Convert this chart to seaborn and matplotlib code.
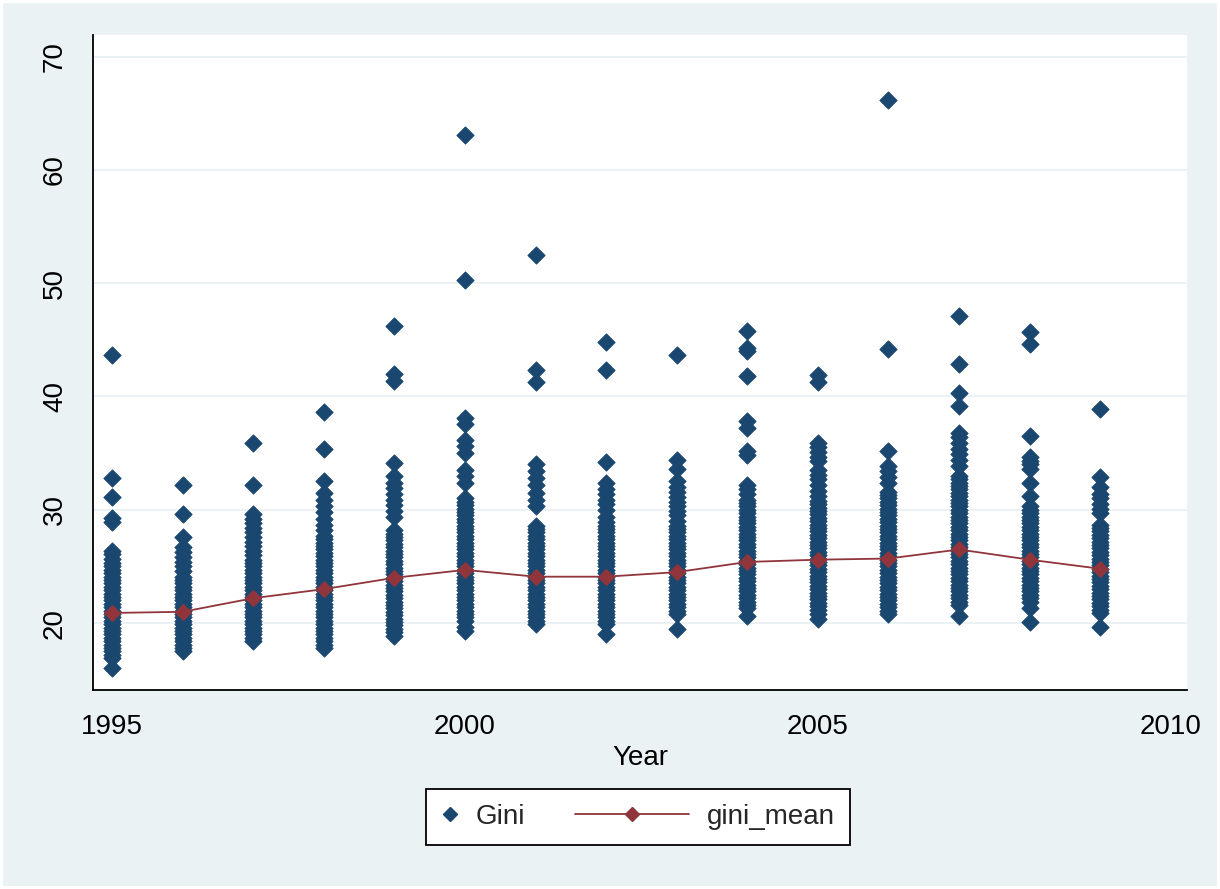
import matplotlib
matplotlib.use("Agg")
import matplotlib.pyplot as plt
import seaborn as sns
import pandas as pd
from matplotlib.lines import Line2D
from matplotlib.patches import Rectangle
from matplotlib.legend_handler import HandlerLine2D

# ---- data -----------------------------------------------------------------
years = [1995, 1996, 1997, 1998, 1999, 2000, 2001, 2002, 2003, 2004,
         2005, 2006, 2007, 2008, 2009]

gini_mean = [20.9, 21.0, 22.2, 23.0, 24.0, 24.7, 24.1, 24.1, 24.5, 25.4,
             25.6, 25.7, 26.5, 25.6, 24.8]

gini_1995 = [16.0, 16.9, 17.2, 17.5, 17.8, 18.1, 18.4, 18.7, 19.0, 19.3, 19.6,
             19.9, 20.2, 20.5, 20.8, 21.1, 21.4, 21.7, 22.0, 22.3, 22.6, 22.9,
             23.2, 23.5, 23.8, 24.1, 24.4, 24.7, 25.0, 25.3, 25.7, 26.1, 26.4,
             28.9, 29.3, 31.1, 32.8, 43.7]
gini_1996 = [17.5, 17.8, 18.1, 18.4, 18.7, 19.0, 19.3, 19.6, 19.9, 20.2, 20.5,
             20.8, 21.1, 21.4, 21.7, 22.0, 22.3, 22.6, 22.9, 23.2, 23.5, 23.8,
             24.1, 24.6, 25.0, 25.4, 25.8, 26.3, 26.7, 27.6, 29.6, 32.2]
gini_1997 = [18.4, 18.7, 19.0, 19.3, 19.6, 19.9, 20.2, 20.5, 20.8, 21.1, 21.4,
             21.7, 22.0, 22.3, 22.6, 22.9, 23.2, 23.5, 23.8, 24.1, 24.4, 24.7,
             25.0, 25.3, 25.6, 26.0, 26.4, 26.8, 27.2, 27.6, 28.0, 28.4, 28.8,
             29.2, 29.6, 32.2, 35.9]
gini_1998 = [17.8, 18.1, 18.4, 18.7, 19.0, 19.3, 19.6, 19.9, 20.2, 20.5, 20.8,
             21.1, 21.4, 21.7, 22.0, 22.3, 22.6, 22.9, 23.2, 23.5, 23.8, 24.1,
             24.4, 24.7, 25.0, 25.3, 25.6, 25.9, 26.2, 26.5, 26.8, 27.1, 27.4,
             27.7, 28.2, 28.7, 29.2, 29.8, 30.3, 30.9, 31.5, 32.5, 35.4, 38.6]
gini_1999 = [18.9, 19.2, 19.5, 19.8, 20.1, 20.4, 20.7, 21.0, 21.3, 21.6, 21.9,
             22.2, 22.5, 22.8, 23.1, 23.4, 23.7, 24.0, 24.3, 24.6, 24.9, 25.2,
             25.5, 25.8, 26.1, 26.4, 26.7, 27.0, 27.3, 27.6, 27.9, 28.2, 29.4,
             29.9, 30.4, 30.9, 31.4, 31.9, 32.4, 33.0, 34.1, 41.4, 42.0, 46.2]
gini_2000 = [19.3, 19.7, 20.2, 20.5, 20.8, 21.1, 21.4, 21.7, 22.0, 22.3, 22.6,
             22.9, 23.2, 23.5, 23.8, 24.1, 24.4, 24.7, 25.0, 25.3, 25.6, 25.9,
             26.2, 26.5, 26.8, 27.1, 27.4, 27.7, 28.0, 28.3, 28.6, 28.9, 29.2,
             29.5, 29.8, 30.1, 30.4, 30.7, 31.0, 32.4, 33.0, 33.5, 35.0, 35.6,
             36.2, 37.6, 38.1, 50.3, 63.1]
gini_2001 = [19.9, 20.2, 20.5, 20.8, 21.1, 21.4, 21.7, 22.0, 22.3, 22.6, 22.9,
             23.2, 23.5, 23.8, 24.1, 24.4, 24.7, 25.0, 25.3, 25.6, 25.9, 26.2,
             26.5, 26.8, 27.1, 27.4, 27.7, 28.0, 28.3, 28.6, 30.3, 30.9, 31.5,
             32.2, 32.8, 33.4, 34.0, 41.3, 42.3, 52.5]
gini_2002 = [19.0, 19.9, 20.2, 20.5, 20.8, 21.1, 21.4, 21.7, 22.0, 22.3, 22.6,
             22.9, 23.2, 23.5, 23.8, 24.1, 24.4, 24.7, 25.0, 25.3, 25.6, 25.9,
             26.2, 26.5, 26.8, 27.1, 27.4, 27.7, 28.0, 28.3, 28.6, 28.9, 29.4,
             30.0, 30.5, 30.9, 31.4, 31.8, 32.4, 34.2, 42.3, 44.8]
gini_2003 = [19.5, 20.8, 21.1, 21.4, 21.7, 22.0, 22.3, 22.6, 22.9, 23.2, 23.5,
             23.8, 24.1, 24.4, 24.7, 25.0, 25.3, 25.6, 25.9, 26.2, 26.5, 26.8,
             27.1, 27.4, 27.7, 28.0, 28.3, 28.6, 29.0, 29.5, 29.9, 30.3, 30.7,
             31.1, 31.6, 32.0, 32.5, 33.6, 34.4, 43.7]
gini_2004 = [20.6, 21.3, 21.6, 21.9, 22.2, 22.5, 22.8, 23.1, 23.4, 23.7, 24.0,
             24.3, 24.6, 24.9, 25.2, 25.5, 25.8, 26.1, 26.4, 26.7, 27.0, 27.3,
             27.6, 27.9, 28.2, 28.5, 28.8, 29.1, 29.4, 29.7, 30.0, 30.3, 30.6,
             30.9, 31.4, 31.8, 32.2, 34.8, 35.2, 37.2, 37.8, 41.8, 44.0, 44.3,
             45.8]
gini_2005 = [20.4, 20.8, 21.2, 21.5, 21.8, 22.1, 22.4, 22.7, 23.0, 23.3, 23.6,
             23.9, 24.2, 24.5, 24.8, 25.1, 25.4, 25.7, 26.0, 26.3, 26.6, 26.9,
             27.2, 27.5, 27.8, 28.1, 28.4, 28.7, 29.0, 29.3, 29.6, 29.9, 30.2,
             30.5, 30.8, 31.2, 31.7, 32.2, 32.7, 33.1, 33.5, 34.3, 34.7, 35.1,
             35.5, 35.9, 41.3, 41.9]
gini_2006 = [20.8, 21.1, 21.4, 21.7, 22.0, 22.3, 22.6, 22.9, 23.2, 23.5, 23.8,
             24.1, 24.4, 24.7, 25.0, 25.3, 25.6, 25.9, 26.2, 26.5, 26.8, 27.1,
             27.4, 27.7, 28.0, 28.3, 28.6, 28.9, 29.2, 29.5, 29.8, 30.1, 30.4,
             30.7, 31.0, 31.3, 31.6, 32.4, 32.9, 33.4, 33.9, 35.2, 44.2, 66.2]
gini_2007 = [20.6, 21.6, 21.9, 22.2, 22.5, 22.8, 23.1, 23.4, 23.7, 24.0, 24.3,
             24.6, 24.9, 25.2, 25.5, 25.8, 26.1, 26.4, 26.7, 27.0, 27.3, 27.6,
             27.9, 28.2, 28.5, 28.8, 29.1, 29.4, 29.7, 30.0, 30.3, 30.6, 30.9,
             31.2, 31.5, 31.8, 32.1, 32.4, 32.7, 33.0, 33.9, 34.4, 34.9, 35.4,
             35.9, 36.4, 36.8, 39.2, 40.3, 42.9, 47.1]
gini_2008 = [20.1, 21.3, 21.9, 22.2, 22.5, 22.8, 23.1, 23.4, 23.7, 24.0, 24.3,
             24.6, 24.9, 25.2, 25.5, 25.8, 26.1, 26.4, 26.7, 27.0, 27.3, 27.6,
             27.9, 28.2, 28.5, 28.8, 29.1, 29.4, 29.7, 30.0, 30.3, 31.2, 32.4,
             33.6, 34.0, 34.3, 34.7, 36.5, 44.6, 45.7]
gini_2009 = [19.7, 20.9, 21.2, 21.5, 21.8, 22.1, 22.4, 22.7, 23.0, 23.3, 23.6,
             23.9, 24.2, 24.5, 24.8, 25.1, 25.4, 25.7, 26.0, 26.3, 26.6, 26.9,
             27.2, 27.5, 27.8, 28.1, 28.4, 28.7, 29.7, 30.1, 30.5, 31.0, 31.4,
             32.0, 32.9, 38.9]

gini_columns = [gini_1995, gini_1996, gini_1997, gini_1998, gini_1999,
                gini_2000, gini_2001, gini_2002, gini_2003, gini_2004,
                gini_2005, gini_2006, gini_2007, gini_2008, gini_2009]

x_ticks = [1995, 2000, 2005, 2010]
y_ticks = [20, 30, 40, 50, 60, 70]

# ---- tidy tables ----------------------------------------------------------
obs = pd.concat(
    [pd.DataFrame({"Year": yr, "Gini": vals}) for yr, vals in zip(years, gini_columns)],
    ignore_index=True,
)
means = pd.DataFrame({"Year": years, "gini_mean": gini_mean})

# ---- style ----------------------------------------------------------------
NAVY = "#1A476F"
MAROON = "#90353B"
BG = "#EAF2F3"

sns.set_theme(style="white")
plt.rcParams["font.family"] = ["Liberation Sans", "DejaVu Sans"]

W, H = 1220, 889
fig = plt.figure(figsize=(W / 100, H / 100), dpi=100, facecolor="white")
fig.patches.append(Rectangle((3 / W, 3 / H), 1 - 6 / W, 1 - 6 / H,
                             transform=fig.transFigure, facecolor=BG,
                             edgecolor="none", zorder=-10))

ax = fig.add_axes([93 / W, 199 / H, 1094 / W, 655 / H])
ax.set_facecolor("white")

sns.scatterplot(data=obs, x="Year", y="Gini", marker="D", s=78,
                color=NAVY, edgecolor=NAVY, linewidth=0.6,
                legend=False, zorder=3, ax=ax)
sns.lineplot(data=means, x="Year", y="gini_mean", color=MAROON, lw=1.3,
             marker="D", markersize=8.5, markeredgecolor=MAROON,
             estimator=None, legend=False, zorder=4, ax=ax)

ax.set_xlim(1994.73, 2010.23)
ax.set_ylim(14.1, 71.9)
ax.set_xticks(x_ticks)
ax.set_yticks(y_ticks)
ax.set_axisbelow(True)
ax.yaxis.grid(True, color=BG, lw=1.4)
ax.xaxis.grid(False)

for side in ("top", "right"):
    ax.spines[side].set_visible(False)
for side in ("left", "bottom"):
    ax.spines[side].set_color("black")
    ax.spines[side].set_linewidth(1.3)

ax.tick_params(axis="both", direction="out", length=8, width=1.3,
               color="black", labelsize=20, labelcolor="black")
ax.tick_params(axis="x", pad=9)
ax.tick_params(axis="y", pad=10)
plt.setp(ax.get_yticklabels(), rotation=90, va="center", ha="right")

ax.set_xlabel("Year", fontsize=20, color="black", labelpad=4)
ax.set_ylabel("")


# ---- legend ---------------------------------------------------------------
class ExtendedLine(HandlerLine2D):
    """Line key that reaches further left than the handle box."""

    def __init__(self, extra, **kw):
        super().__init__(**kw)
        self.extra = extra

    def create_artists(self, legend, orig_handle, xdescent, ydescent,
                       width, height, fontsize, trans):
        ext = self.extra * fontsize
        return super().create_artists(legend, orig_handle, xdescent + ext,
                                      ydescent, width + ext, height,
                                      fontsize, trans)


gini_key = Line2D([], [], ls="none", marker="D", color=NAVY, markersize=7)
mean_key = Line2D([], [], color=MAROON, lw=1.3, marker="D", markersize=7)

leg = fig.legend(handles=[gini_key, mean_key], labels=["Gini", "gini_mean"],
                 loc="center", bbox_to_anchor=(638 / W, 1 - 817 / H),
                 ncol=2, fontsize=20, frameon=True, fancybox=False,
                 edgecolor="black", facecolor="white", framealpha=1,
                 handlelength=0.6, handletextpad=0.63, columnspacing=5.3,
                 borderpad=0.55,
                 handler_map={mean_key: ExtendedLine(3.5, numpoints=1)})
leg.get_frame().set_linewidth(1.3)

fig.savefig("out.png", dpi=100, facecolor=fig.get_facecolor())
